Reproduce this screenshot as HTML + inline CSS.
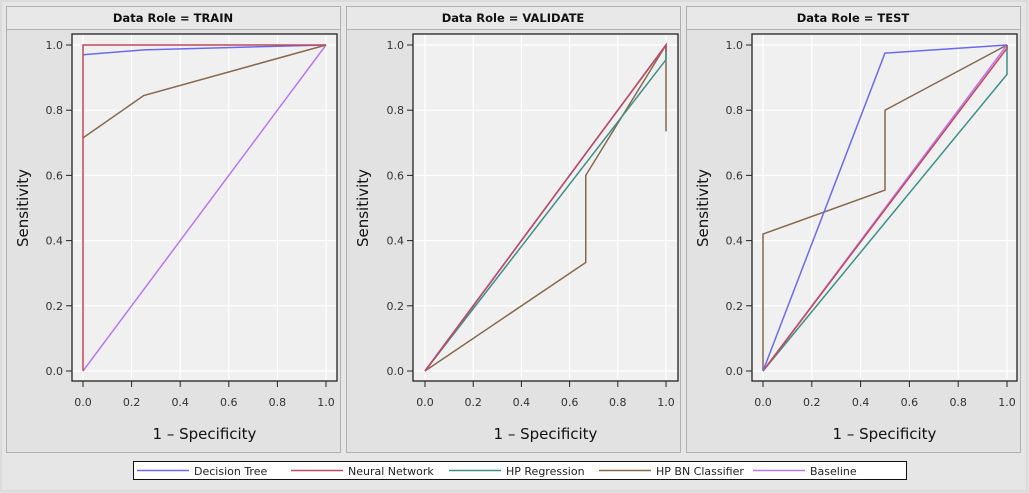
<!DOCTYPE html><html><head><style>body{margin:0;background:#e6e6e6}svg{display:block;font-family:"DejaVu Sans","Liberation Sans",sans-serif}</style></head><body>
<svg id="s" width="1029" height="493" xmlns="http://www.w3.org/2000/svg"></svg>
<script>
const S=document.getElementById('s');let h='<rect x="0" y="0" width="1029" height="493" fill="#e6e6e6"/><rect x="1" y="1" width="1026" height="490" fill="none" stroke="#d0d0d0"/>';
const C={b:'#6a6af0',r:'#c24a5a',t:'#3d9088',n:'#86694c',p:'#bb77ee'};
const P=[{ox:6,fl:72,x0:83,x1:326,t:'TRAIN',L:[
['p',[[0,0],[1,1]]],['n',[[0,0.715],[0.25,0.845],[1,1]]],['b',[[0,0.97],[0.25,0.985],[1,1]]],['r',[[0,0],[0,1],[1,1]]]]},
{ox:346,fl:413,x0:425,x1:666,t:'VALIDATE',L:[
['n',[[0,0],[0.667,0.333],[0.667,0.6],[1,1],[1,0.735]]],['t',[[0,0],[1,0.955],[1,1]]],['p',[[0,0],[1,1]]],['b',[[0,0],[1,1],[1,0.99]]],['r',[[0,0],[1,1],[1,0.98]]]]},
{ox:686,fl:752,x0:763,x1:1007,t:'TEST',L:[
['n',[[0,0],[0,0.42],[0.5,0.555],[0.5,0.8],[1,1]]],['t',[[0,0],[1,0.91],[1,1]]],['p',[[0,0],[1,1]]],['r',[[0,0],[1,0.99],[1,1]]],['b',[[0,0],[0.5,0.975],[1,1]]]]}];
const Y=v=>371-v*326;
for(const p of P){const X=v=>p.x0+v*(p.x1-p.x0);
h+=`<rect x="${p.ox+0.5}" y="6.5" width="334" height="446" fill="#e2e2e2" stroke="#b0b0b0"/><rect x="${p.ox+0.5}" y="6.5" width="334" height="23" fill="#e8e8e8" stroke="#b0b0b0"/>`;
h+=`<text x="${p.ox+167}" y="22" text-anchor="middle" font-size="11.5" font-weight="bold" fill="#111">Data Role = ${p.t}</text>`;
const fr=p.fl+265;h+=`<rect x="${p.fl}" y="34" width="265" height="347" fill="#f0f0f0"/>`;
for(let i=0;i<=5;i++){const v=i/5,x=X(v),y=Y(v);h+=`<line x1="${x}" y1="34" x2="${x}" y2="381" stroke="#fff" stroke-width="1.2"/><line x1="${p.fl}" y1="${y}" x2="${fr}" y2="${y}" stroke="#fff" stroke-width="1.2"/>`;
h+=`<line x1="${x}" y1="381" x2="${x}" y2="387" stroke="#222"/><text x="${x}" y="406" text-anchor="middle" font-size="11" fill="#333">${v.toFixed(1)}</text>`;
h+=`<line x1="${p.fl-6}" y1="${y}" x2="${p.fl}" y2="${y}" stroke="#222"/><text x="${p.fl-9}" y="${y+4}" text-anchor="end" font-size="11" fill="#333">${v.toFixed(1)}</text>`;}
for(const [c,pts] of p.L)h+=`<polyline fill="none" stroke="${C[c]}" stroke-width="1.5" points="${pts.map(q=>X(q[0])+','+Y(q[1])).join(' ')}"/>`;
h+=`<rect x="${p.fl}" y="34" width="265" height="347" fill="none" stroke="#222" stroke-width="1.3"/>`;
h+=`<text x="${(p.fl+fr)/2}" y="439" text-anchor="middle" font-size="15" fill="#111">1 – Specificity</text>`;
h+=`<text transform="translate(${p.ox+22},208) rotate(-90)" text-anchor="middle" font-size="15" fill="#111">Sensitivity</text>`;}
h+='<rect x="133.5" y="461.5" width="773" height="18" fill="#fff" stroke="#111"/>';
const lg=[['b','Decision Tree',137],['r','Neural Network',291],['t','HP Regression',449],['n','HP BN Classifier',599],['p','Baseline',753]];
for(const [c,t,x] of lg)h+=`<line x1="${x}" y1="470.5" x2="${x+52}" y2="470.5" stroke="${C[c]}" stroke-width="1.5"/><text x="${x+57}" y="475" font-size="11" fill="#222">${t}</text>`;
S.innerHTML=h;
</script></body></html>
